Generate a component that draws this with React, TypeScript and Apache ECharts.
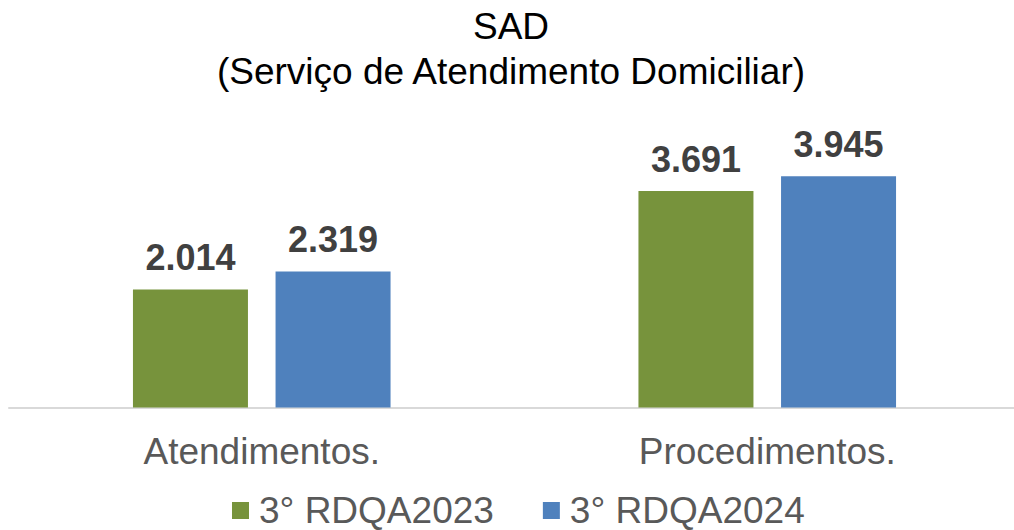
import React, { useEffect, useRef } from "react";
import * as echarts from "echarts";

const categories = ["Atendimentos.", "Procedimentos."];
const seriesNames = ["3° RDQA2023", "3° RDQA2024"];
const values2023 = [2014, 3691];
const values2024 = [2319, 3945];
const colors = ["#77933C", "#4F81BD"];

const fmt = (v: number) => {
  const s = String(Math.round(v));
  return s.replace(/\B(?=(\d{3})+(?!\d))/g, ".");
};

export default function App() {
  const ref = useRef<HTMLDivElement>(null);
  useEffect(() => {
    if (!ref.current) return;
    const chart = echarts.init(ref.current, undefined, { renderer: "svg" });
    const font = "'Liberation Sans', Arial, sans-serif";
    const label = {
      show: true,
      position: "top",
      distance: 14,
      fontSize: 36,
      fontWeight: "bold",
      color: "#404040",
      fontFamily: font,
      formatter: (p: any) => fmt(p.value),
    };
    chart.setOption({
      animation: false,
      backgroundColor: "#ffffff",
      title: {
        text: "SAD\n(Serviço de Atendimento Domiciliar)",
        left: 511,
        top: 4,
        padding: 0,
        textAlign: "center",
        textStyle: {
          fontSize: 37,
          fontWeight: "normal",
          color: "#000000",
          fontFamily: font,
          lineHeight: 45,
        },
      },
      legend: {
        left: 232,
        top: 492,
        padding: 0,
        itemWidth: 17,
        itemHeight: 17,
        itemGap: 49,
        icon: "rect",
        textStyle: {
          fontSize: 37,
          lineHeight: 37,
          color: "#595959",
          fontFamily: font,
          padding: [0, 0, 0, 5],
        },
        data: seriesNames,
      },
      grid: { left: 9, width: 1011, top: 173, height: 234.5 },
      xAxis: {
        type: "category",
        data: categories,
        axisLine: { show: true, lineStyle: { color: "#D9D9D9", width: 2 } },
        axisTick: { show: false },
        axisLabel: {
          fontSize: 37,
          color: "#595959",
          fontFamily: font,
          margin: 25,
        },
      },
      yAxis: {
        type: "value",
        min: 0,
        max: 4000,
        show: false,
        splitLine: { show: false },
      },
      series: [
        {
          name: seriesNames[0],
          type: "bar",
          data: values2023,
          barWidth: 115,
          barGap: "24%",
          itemStyle: { color: colors[0] },
          label,
        },
        {
          name: seriesNames[1],
          type: "bar",
          data: values2024,
          barWidth: 115,
          barGap: "24%",
          itemStyle: { color: colors[1] },
          label,
        },
      ],
    });
    return () => chart.dispose();
  }, []);
  return (
    <div
      style={{
        position: "fixed",
        left: 0,
        top: 0,
        width: 1014,
        height: 530,
        overflow: "hidden",
        background: "#ffffff",
      }}
    >
      <div ref={ref} style={{ width: 1030, height: 530 }} />
    </div>
  );
}
